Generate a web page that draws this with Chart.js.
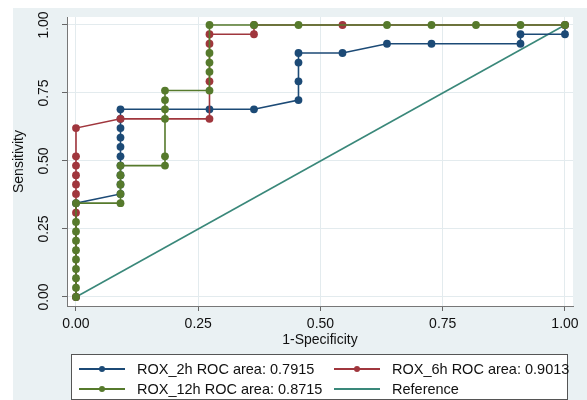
<!DOCTYPE html>
<html>
<head>
<meta charset="utf-8">
<script src="https://cdn.jsdelivr.net/npm/chart.js@4.4.1/dist/chart.umd.min.js"></script>
<style>
    body { margin: 0; background: #fff; }
    #wrap { position: relative; width: 587px; height: 400px; overflow: hidden; font-family: "Liberation Sans", Arial, Helvetica, sans-serif; }
    #roc { position: absolute; left: 0; top: 0; }
    #legend { position: absolute; left: 71px; top: 354px; width: 497px; height: 46px; background: #fff; border: 1px solid #555; box-sizing: border-box; }
    .item { position: absolute; height: 20px; font-size: 14.5px; color: #111; white-space: nowrap; }
    .item .key { position: absolute; left: 0; top: 9px; width: 46px; height: 1.6px; }
    .item .dot { position: absolute; left: 20px; top: 7px; width: 6px; height: 6px; border-radius: 50%; }
    .item .txt { position: absolute; top: 1px; line-height: 18px; }
</style>
</head>
<body>
<div id="wrap">
    <canvas id="roc" width="587" height="400"></canvas>
    <div id="legend"></div>
</div>
<script>
    // tick values
    const xTicks = [0, 0.25, 0.5, 0.75, 1];
    const yTicks = [0, 0.25, 0.5, 0.75, 1];
    const tickLabels = ['0.00', '0.25', '0.50', '0.75', '1.00'];

    // ROX_2h
    const rox2hX = [0, 0, 0.091, 0.091, 0.091, 0.091, 0.091, 0.091, 0.091, 0.091, 0.091, 0.091, 0.273, 0.364, 0.455, 0.455, 0.455, 0.455, 0.545, 0.636, 0.727, 0.909, 0.909, 1, 1];
    const rox2hY = [0, 0.345, 0.379, 0.414, 0.448, 0.483, 0.517, 0.552, 0.586, 0.621, 0.655, 0.690, 0.690, 0.690, 0.724, 0.793, 0.862, 0.897, 0.897, 0.931, 0.931, 0.931, 0.966, 0.966, 1];

    // ROX_6h
    const rox6hX = [0, 0, 0, 0, 0, 0, 0, 0, 0.091, 0.273, 0.273, 0.273, 0.273, 0.364, 0.364, 0.545, 1];
    const rox6hY = [0, 0.310, 0.379, 0.414, 0.448, 0.483, 0.517, 0.621, 0.655, 0.655, 0.793, 0.931, 0.966, 0.966, 1, 1, 1];

    // ROX_12h
    const rox12hX = [0, 0, 0, 0, 0, 0, 0, 0, 0, 0, 0.091, 0.091, 0.091, 0.091, 0.091, 0.182, 0.182, 0.182, 0.182, 0.182, 0.182, 0.273, 0.273, 0.273, 0.273, 0.273, 0.364, 0.455, 0.636, 0.727, 0.818, 0.909, 1];
    const rox12hY = [0, 0.034, 0.069, 0.103, 0.138, 0.172, 0.207, 0.241, 0.276, 0.345, 0.345, 0.379, 0.414, 0.448, 0.483, 0.483, 0.517, 0.655, 0.690, 0.724, 0.759, 0.759, 0.828, 0.862, 0.897, 1, 1, 1, 1, 1, 1, 1, 1];

    const refX = [0, 1];
    const refY = [0, 1];

    const seriesNames = ['ROX_2h ROC area: 0.7915', 'ROX_6h ROC area: 0.9013', 'ROX_12h ROC area: 0.8715', 'Reference'];
    const colors = ['#1c4a76', '#a0363d', '#567a2c', '#3a887a'];

    function pts(xs, ys) {
        return xs.map((x, i) => ({ x: x, y: ys[i] }));
    }

    function series(label, data, color, order, radius) {
        return {
            label: label,
            data: data,
            showLine: true,
            borderColor: color,
            backgroundColor: color,
            borderWidth: 1.6,
            pointRadius: radius,
            pointBorderWidth: 0,
            pointBackgroundColor: color,
            tension: 0,
            order: order
        };
    }

    const graphBg = {
        id: 'graphBg',
        beforeDraw(chart) {
            const { ctx, chartArea: a } = chart;
            ctx.save();
            ctx.fillStyle = '#ffffff';
            ctx.fillRect(0, 0, chart.width, chart.height);
            ctx.fillStyle = '#eaf1f3';
            ctx.fillRect(13, 8, chart.width - 13, chart.height - 8);
            ctx.fillStyle = '#ffffff';
            ctx.fillRect(a.left, a.top, a.right - a.left, a.bottom - a.top);
            ctx.restore();
        }
    };

    // y tick labels are vertical in the original
    const yLabels = {
        id: 'yLabels',
        afterDraw(chart) {
            const ctx = chart.ctx;
            const y = chart.scales.y;
            ctx.save();
            ctx.font = '14px "Liberation Sans", Arial, sans-serif';
            ctx.fillStyle = '#111';
            ctx.textAlign = 'center';
            ctx.textBaseline = 'middle';
            yTicks.forEach((v, i) => {
                ctx.save();
                ctx.translate(44, y.getPixelForValue(v));
                ctx.rotate(-Math.PI / 2);
                ctx.fillText(tickLabels[i], 0, 0);
                ctx.restore();
            });
            ctx.restore();
        }
    };

    const gridStyle = { color: '#e3ebee', lineWidth: 1, tickColor: '#666', tickLength: 5 };

    new Chart(document.getElementById('roc'), {
        type: 'scatter',
        data: {
            datasets: [
                series(seriesNames[3], pts(refX, refY), colors[3], 3, 0),
                series(seriesNames[0], pts(rox2hX, rox2hY), colors[0], 2, 3.9),
                series(seriesNames[1], pts(rox6hX, rox6hY), colors[1], 1, 3.9),
                series(seriesNames[2], pts(rox12hX, rox12hY), colors[2], 0, 3.9)
            ]
        },
        options: {
            responsive: false,
            animation: false,
            layout: { padding: { left: 11, top: 17, right: 14, bottom: 51 } },
            plugins: { legend: { display: false }, tooltip: { enabled: false } },
            scales: {
                x: {
                    type: 'linear',
                    min: -0.0184,
                    max: 1.0164,
                    afterBuildTicks: s => { s.ticks = xTicks.map(v => ({ value: v })); },
                    afterFit: s => { s.height = 43; },
                    grid: gridStyle,
                    border: { color: '#777', width: 1 },
                    ticks: {
                        padding: 5,
                        color: '#111',
                        font: { family: '"Liberation Sans", Arial, sans-serif', size: 14 },
                        callback: (v, i) => tickLabels[i]
                    },
                    title: {
                        display: true,
                        text: '1-Specificity',
                        color: '#111',
                        padding: { top: 0, bottom: 0 },
                        font: { family: '"Liberation Sans", Arial, sans-serif', size: 14 }
                    }
                },
                y: {
                    type: 'linear',
                    min: -0.0331,
                    max: 1.0294,
                    afterBuildTicks: s => { s.ticks = yTicks.map(v => ({ value: v })); },
                    afterFit: s => { s.width = 56; },
                    grid: gridStyle,
                    border: { color: '#777', width: 1 },
                    ticks: { display: false },
                    title: {
                        display: true,
                        text: 'Sensitivity',
                        color: '#111',
                        padding: { top: 0, bottom: 0 },
                        font: { family: '"Liberation Sans", Arial, sans-serif', size: 14 }
                    }
                }
            }
        },
        plugins: [graphBg, yLabels]
    });

    // legend laid out in two columns like the original
    const legendPos = [[7, 4], [262, 4], [7, 24], [262, 24]];
    const legendDots = [true, true, true, false];
    const legend = document.getElementById('legend');
    seriesNames.forEach((name, k) => {
        const item = document.createElement('div');
        item.className = 'item';
        item.style.left = legendPos[k][0] + 'px';
        item.style.top = legendPos[k][1] + 'px';
        let html = '<span class="key" style="background:' + colors[k] + '"></span>';
        if (legendDots[k]) html += '<span class="dot" style="background:' + colors[k] + '"></span>';
        html += '<span class="txt" style="left:' + (k % 2 === 0 ? 58 : 58) + 'px">' + name + '</span>';
        item.innerHTML = html;
        legend.appendChild(item);
    });
</script>
</body>
</html>
